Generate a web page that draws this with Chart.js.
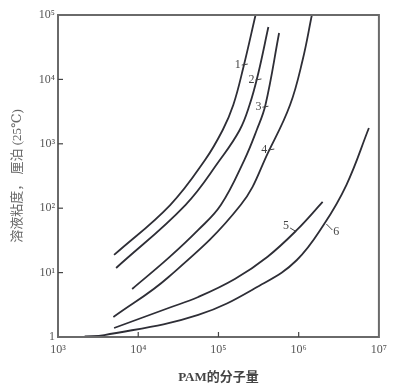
<!DOCTYPE html>
<html>
<head>
<meta charset="utf-8">
<script src="https://cdn.jsdelivr.net/npm/chart.js@4/dist/chart.umd.min.js"></script>
<style>
body { margin: 0; background: #fff; }
</style>
</head>
<body>
<canvas id="chart" width="393" height="388"></canvas>
<script>
const xTicks = [1e3, 1e4, 1e5, 1e6, 1e7];
const xTickLabels = ['10³', '10⁴', '10⁵', '10⁶', '10⁷'];
const yTicks = [1, 10, 100, 1e3, 1e4, 1e5];
const yTickLabels = ['1', '10¹', '10²', '10³', '10⁴', '10⁵'];

// molecular weight / viscosity
const mw1 = [5.0e3, 2.5e4, 6.8e4, 1.13e5, 1.53e5, 2.05e5, 2.9e5];
const eta1 = [18.8, 112, 560, 1640, 4000, 15600, 100000];
const mw2 = [5.3e3, 3.87e4, 1.04e5, 1.84e5, 2.44e5, 3.1e5, 4.19e5];
const eta2 = [11.8, 112, 560, 1640, 4000, 11700, 65000];
const mw3 = [8.4e3, 2.39e4, 5.6e4, 1.07e5, 2.1e5, 3.0e5, 3.85e5, 5.7e5];
const eta3 = [5.56, 16.9, 46, 112, 560, 1640, 4000, 52500];
const mw4 = [4.9e3, 2.39e4, 1.89e5, 4.3e5, 7.8e5, 1.12e6, 1.46e6];
const eta4 = [2.04, 8.55, 112, 800, 4000, 20000, 100000];
const mw5 = [5.0e3, 2.39e4, 5.6e4, 1.6e5, 4.06e5, 9.5e5, 1.99e6];
const eta5 = [1.38, 2.82, 4.18, 7.95, 17.5, 45.9, 125];
const mw6 = [2.15e3, 3.78e3, 5.6e4, 3.73e5, 9.5e5, 2.04e6, 3.93e6, 7.5e6];
const eta6 = [1.02, 1.07, 2.2, 6.9, 15.7, 54.8, 229, 1760];

const curveNames = ['1', '2', '3', '4', '5', '6'];
const labelMw = [1.74e5, 2.58e5, 3.15e5, 3.73e5, 6.97e5, 2.95e6];
const labelEta = [16700, 9800, 3700, 800, 53, 42.7];

const xTitle = 'PAM的分子量';
const yTitle = '溶液粘度， 厘泊 (25℃)';

const FONT = "'Liberation Serif', 'DejaVu Serif', 'Noto Sans CJK SC', serif";
const INK = '#2e2e36';

function toPoints(xs, ys) {
    return xs.map((x, i) => ({ x: x, y: ys[i] }));
}

const allMw = [mw1, mw2, mw3, mw4, mw5, mw6];
const allEta = [eta1, eta2, eta3, eta4, eta5, eta6];

const datasets = allMw.map((xs, i) => ({
    label: curveNames[i],
    data: toPoints(xs, allEta[i]),
    borderColor: INK,
    borderWidth: 1.8,
    pointRadius: 0,
    fill: false,
    tension: 0.4
}));

// frame, inward ticks and curve numbers
const decorations = {
    id: 'decorations',
    afterDatasetsDraw(chart) {
        const ctx = chart.ctx;
        const a = chart.chartArea;
        const xs = chart.scales.x, ys = chart.scales.y;
        ctx.save();
        ctx.strokeStyle = '#6a6a6a';
        ctx.lineWidth = 2;
        ctx.strokeRect(a.left, a.top, a.right - a.left, a.bottom - a.top);

        ctx.lineWidth = 1.2;
        ctx.strokeStyle = '#444';
        xTicks.slice(1, -1).forEach(v => {
            const px = xs.getPixelForValue(v);
            ctx.beginPath();
            ctx.moveTo(px, a.bottom);
            ctx.lineTo(px, a.bottom - 5);
            ctx.stroke();
        });
        yTicks.slice(1, -1).forEach(v => {
            const py = ys.getPixelForValue(v);
            ctx.beginPath();
            ctx.moveTo(a.left, py);
            ctx.lineTo(a.left + 5, py);
            ctx.stroke();
        });

        ctx.fillStyle = '#444';
        ctx.font = '12px ' + FONT;
        ctx.textAlign = 'center';
        ctx.textBaseline = 'middle';
        ctx.lineWidth = 1;
        curveNames.forEach((name, i) => {
            const px = xs.getPixelForValue(labelMw[i]);
            const py = ys.getPixelForValue(labelEta[i]);
            ctx.fillText(name, px, py);
            ctx.beginPath();
            if (i < 4) {
                ctx.moveTo(px + 4, py);
                ctx.lineTo(px + 10, py - 1);
            } else if (i == 4) {
                ctx.moveTo(px + 4, py + 2);
                ctx.lineTo(px + 9, py + 5);
            } else {
                ctx.moveTo(px - 4, py - 2);
                ctx.lineTo(px - 10, py - 8);
            }
            ctx.stroke();
        });
        ctx.restore();
    }
};

const config = {
    type: 'line',
    data: { datasets: datasets },
    options: {
        responsive: false,
        animation: false,
        layout: { padding: { left: 10, right: 10, top: 15, bottom: 0 } },
        scales: {
            x: {
                type: 'logarithmic',
                min: 1e3,
                max: 1e7,
                afterBuildTicks: scale => { scale.ticks = xTicks.map(v => ({ value: v })); },
                afterFit: scale => { scale.height = 51; },
                grid: { display: false, drawTicks: false },
                border: { display: false },
                ticks: {
                    autoSkip: false,
                    maxRotation: 0,
                    padding: 6,
                    color: '#555',
                    font: { family: FONT, size: 12 },
                    callback: function (value) {
                        return xTickLabels[xTicks.indexOf(value)];
                    }
                },
                title: {
                    display: true,
                    text: xTitle,
                    color: '#444',
                    padding: { top: 0, bottom: 3 },
                    font: { family: FONT, size: 13, weight: 'bold' }
                }
            },
            y: {
                type: 'logarithmic',
                min: 1,
                max: 1e5,
                afterBuildTicks: scale => { scale.ticks = yTicks.map(v => ({ value: v })); },
                afterFit: scale => { scale.width = 48; },
                grid: { display: false, drawTicks: false },
                border: { display: false },
                ticks: {
                    autoSkip: false,
                    padding: 3,
                    color: '#555',
                    font: { family: FONT, size: 12 },
                    callback: function (value) {
                        return yTickLabels[yTicks.indexOf(value)];
                    }
                },
                title: {
                    display: true,
                    text: yTitle,
                    color: '#666',
                    padding: { top: 0, bottom: 0 },
                    font: { family: FONT, size: 13 }
                }
            }
        },
        plugins: {
            legend: { display: false },
            tooltip: { enabled: false }
        }
    },
    plugins: [decorations]
};

new Chart(document.getElementById('chart').getContext('2d'), config);
</script>
</body>
</html>
